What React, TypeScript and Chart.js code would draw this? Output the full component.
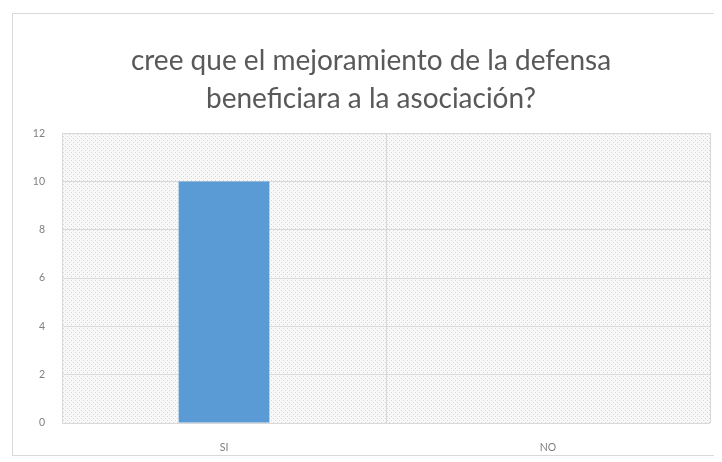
import React, { useEffect, useRef } from "react";
import { Chart, registerables } from "chart.js";

Chart.register(...registerables);

const titleLines = ["cree que el mejoramiento de la defensa", "beneficiara a la asociación?"];
const categories = ["SI", "NO"];
const values = [10, 0];
const yTicks = { min: 0, max: 12, step: 2 };

function makePattern(ctx: CanvasRenderingContext2D) {
  const c = document.createElement("canvas");
  c.width = 4;
  c.height = 4;
  const g = c.getContext("2d")!;
  g.fillStyle = "#f8f8f8";
  g.fillRect(0, 0, 4, 4);
  g.fillStyle = "#d6d6d6";
  g.fillRect(0, 0, 1, 1);
  g.fillRect(2, 2, 1, 1);
  return ctx.createPattern(c, "repeat");
}

const plotBg = {
  id: "plotBg",
  beforeDraw(chart: any) {
    const { ctx, chartArea } = chart;
    if (!chartArea) return;
    ctx.save();
    const p = makePattern(ctx);
    ctx.fillStyle = p || "#f2f2f2";
    ctx.fillRect(chartArea.left, chartArea.top, chartArea.right - chartArea.left, chartArea.bottom - chartArea.top);
    ctx.restore();
  },
};

export default function App() {
  const ref = useRef<HTMLCanvasElement | null>(null);
  useEffect(() => {
    if (!ref.current) return;
    const chart = new Chart(ref.current, {
      type: "bar",
      data: {
        labels: categories,
        datasets: [
          {
            data: values,
            backgroundColor: "#5B9BD5",
            borderWidth: 0,
            barPercentage: 1,
            categoryPercentage: 0.28,
          },
        ],
      },
      plugins: [plotBg],
      options: {
        responsive: false,
        animation: false,
        layout: { padding: { top: 28, right: 5, left: 19, bottom: 0 } },
        plugins: {
          legend: { display: false },
          tooltip: { enabled: false },
          title: {
            display: true,
            text: titleLines,
            color: "#595959",
            font: { family: "Lato", size: 28, weight: "normal", lineHeight: 1.36 },
            padding: { top: 0, bottom: 15 },
          },
        },
        scales: {
          x: {
            grid: { color: "#d9d9d9", drawTicks: false, offset: true },
            border: { display: false },
            ticks: { color: "#7f7f7f", font: { family: "Lato", size: 10.5 }, padding: 18 },
            afterFit: (s: any) => {
              s.height = 32;
            },
          },
          y: {
            min: yTicks.min,
            max: yTicks.max,
            grid: { color: "#d9d9d9", drawTicks: false },
            border: { display: true, color: "#d9d9d9" },
            ticks: {
              stepSize: yTicks.step,
              color: "#7f7f7f",
              font: { family: "Lato", size: 10.5 },
              padding: 17,
            },
            afterFit: (s: any) => {
              s.width = 30;
            },
          },
        },
      },
    });
    return () => chart.destroy();
  }, []);
  return (
    <div
      style={{
        width: 702,
        height: 441,
        border: "1px solid #d9d9d9",
        marginLeft: 4,
        marginTop: 5,
      }}
    >
      <canvas ref={ref} width={702} height={441} style={{ display: "block" }} />
    </div>
  );
}
